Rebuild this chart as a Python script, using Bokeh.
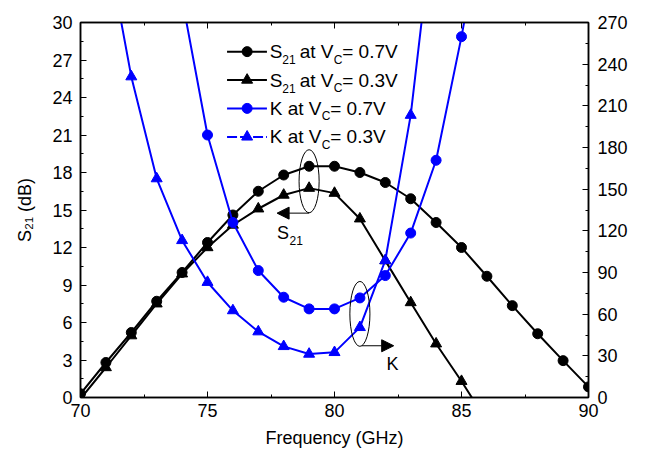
from bokeh.plotting import figure
from bokeh.models import (Range1d, LinearAxis, SingleIntervalTicker, Label, Arrow, NormalHead,
                          CustomJSTickFormatter)
from bokeh.embed import file_html
from bokeh.resources import INLINE

# ---- data ----
freq_s21_07 = list(range(70, 91))
s21_07 = [0.3, 2.8, 5.2, 7.7, 10.0, 12.4, 14.6, 16.5, 17.8, 18.5, 18.5,
          18.0, 17.2, 15.9, 14.0, 12.0, 9.7, 7.35, 5.1, 2.95, 0.85]
freq_s21_03 = list(range(70, 87))
s21_03 = [-0.1, 2.4, 4.95, 7.5, 9.9, 12.0, 13.8, 15.1, 16.2, 16.75, 16.35,
          14.3, 10.95, 7.6, 4.3, 1.3, -1.9]
freq_k_07 = list(range(74, 87))
k_07 = [287, 189, 126, 91.4, 72.2, 63.8, 63.8, 71.7, 87.8, 118.4, 170.8, 259.8, 360]
freq_k_03 = list(range(71, 85))
k_03 = [330, 231, 157.6, 113.1, 83.0, 62.6, 47.4, 36.8, 31.3, 32.5, 50.5, 98.7, 203.3, 360]

legend_labels = [("S", "21", "at V", "C", "= 0.7V"),
                 ("S", "21", "at V", "C", "= 0.3V"),
                 ("K", "", "at V", "C", "= 0.7V"),
                 ("K", "", "at V", "C", "= 0.3V")]

FONT = "Liberation Sans"
BLUE = "#0000FF"

p = figure(width=662, height=463, x_range=Range1d(70, 90), y_range=Range1d(0, 30),
           output_backend="svg", toolbar_location=None,
           min_border_left=80, min_border_right=74, min_border_top=22, min_border_bottom=66)
p.extra_y_ranges = {"k": Range1d(0, 270)}
p.xgrid.visible = False
p.ygrid.visible = False
p.outline_line_color = "black"
p.outline_line_width = 1.5
p.background_fill_color = "white"
p.border_fill_color = "white"

bottom = p.below[0]
left = p.left[0]
bottom.ticker = SingleIntervalTicker(interval=5, num_minor_ticks=2)
left.ticker = SingleIntervalTicker(interval=3, num_minor_ticks=2)
bottom.axis_label = "Frequency (GHz)"
left.axis_label = "S\u2082\u2081 (dB)"

top = LinearAxis(ticker=SingleIntervalTicker(interval=5, num_minor_ticks=2),
                 formatter=CustomJSTickFormatter(code="return ''"))
right = LinearAxis(y_range_name="k", ticker=SingleIntervalTicker(interval=30, num_minor_ticks=2))
p.add_layout(top, "above")
p.add_layout(right, "right")

for ax in [bottom, left, top, right]:
    ax.axis_line_width = 1.5
    ax.axis_line_color = "black"
    ax.major_tick_in = 6
    ax.major_tick_out = 0
    ax.minor_tick_in = 3
    ax.minor_tick_out = 0
    ax.major_tick_line_color = "black"
    ax.minor_tick_line_color = "black"
    ax.major_tick_line_width = 1
    ax.minor_tick_line_width = 1
    ax.major_label_text_font = FONT
    ax.major_label_text_font_size = "18px"
    ax.major_label_text_color = "black"
    ax.axis_label_text_font = FONT
    ax.axis_label_text_font_size = "18px"
    ax.axis_label_text_font_style = "normal"
    ax.axis_label_text_color = "black"
top.major_label_standoff = 0
bottom.major_label_standoff = 6
bottom.axis_label_standoff = 8
left.major_label_standoff = 8
left.axis_label_standoff = 14
right.major_label_standoff = 9

# ---- series ----
p.line(freq_s21_07, s21_07, line_color="black", line_width=2)
p.scatter(freq_s21_07, s21_07, marker="circle", size=10, color="black")
p.line(freq_s21_03, s21_03, line_color="black", line_width=2)
p.scatter(freq_s21_03, s21_03, marker="triangle", size=11, color="black")
p.line(freq_k_07, k_07, line_color=BLUE, line_width=2, y_range_name="k")
p.scatter(freq_k_07, k_07, marker="circle", size=10, color=BLUE, y_range_name="k")
p.line(freq_k_03, k_03, line_color=BLUE, line_width=2, y_range_name="k")
p.scatter(freq_k_03, k_03, marker="triangle", size=11, color=BLUE, y_range_name="k")

# ---- manual legend ----
rows = [27.67, 25.4, 23.13, 20.85]
styles = [("black", "circle", "solid"), ("black", "triangle", "solid"),
          (BLUE, "circle", "solid"), (BLUE, "triangle", "10 3")]


def lab(x, y, text, xo=0, yo=0, size="19px"):
    p.add_layout(Label(x=x, y=y, x_offset=xo, y_offset=yo, text=text, text_font=FONT,
                       text_font_size=size, text_baseline="middle", text_color="black"))


for (col, mk, dash), yv, parts in zip(styles, rows, legend_labels):
    p.line([75.77, 77.34], [yv, yv], line_color=col, line_width=2, line_dash=dash)
    p.scatter([76.56], [yv], marker=mk, size=10 if mk == "circle" else 11, color=col)
    main1, sub1, mid, sub2, tail = parts
    x0 = 77.45
    lab(x0, yv, main1)
    if sub1:
        lab(x0, yv, sub1, xo=12.5, yo=-8, size="12px")
        off = 30
    else:
        off = 18
    lab(x0, yv, mid, xo=off)
    off += 34
    lab(x0, yv, sub2, xo=off, yo=-8, size="12px")
    off += 8.5
    lab(x0, yv, tail, xo=off)

# ---- annotations ----
p.ellipse(x=[79.0], y=[17.3], width=0.79, height=5.05, fill_alpha=0,
          line_color="black", line_width=1)
p.add_layout(Arrow(end=NormalHead(size=12, fill_color="black", line_color="black"),
                   x_start=79.0, y_start=14.75, x_end=77.74, y_end=14.75,
                   line_color="black", line_width=1))
lab(77.74, 13.2, "S", size="18px")
lab(77.74, 13.2, "21", xo=12.5, yo=-8, size="12px")

p.ellipse(x=[81.0], y=[6.69], width=0.79, height=5.19, fill_alpha=0,
          line_color="black", line_width=1)
p.add_layout(Arrow(end=NormalHead(size=12, fill_color="black", line_color="black"),
                   x_start=81.07, y_start=4.14, x_end=82.33, y_end=4.14,
                   line_color="black", line_width=1))
lab(82.05, 2.67, "K", size="18px")

# right axis title (upright)
p.add_layout(Label(x=92.09, y=14.57, text="K", text_font=FONT, text_font_size="18px",
                   text_baseline="middle", text_align="center", text_color="black"))

open("out.html", "w").write(file_html(p, INLINE))
